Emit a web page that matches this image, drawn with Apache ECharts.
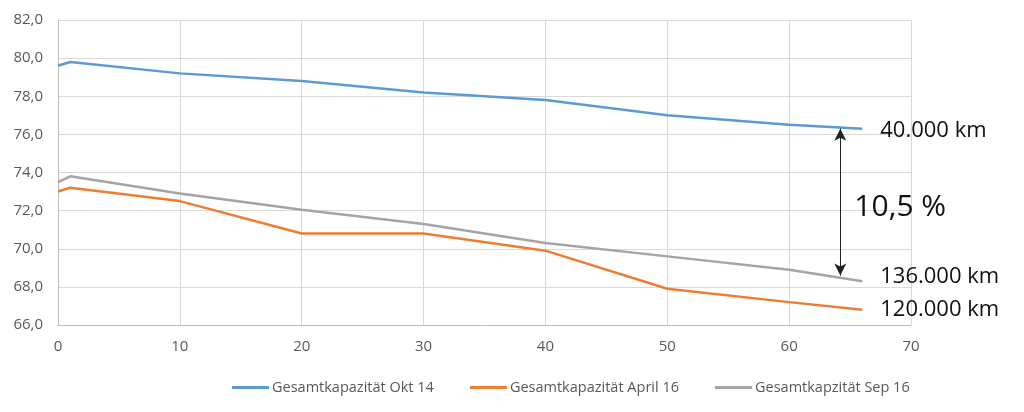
<!DOCTYPE html>
<html><head><meta charset="utf-8">
<script src="https://cdn.jsdelivr.net/npm/echarts@6/dist/echarts.min.js"></script>
<style>html,body{margin:0;padding:0;background:#fff}#c{width:1024px;height:412px}</style>
</head><body><div id="c"></div>
<script>
const xValues = [0, 1, 10, 20, 30, 40, 50, 60, 66];
const seriesNames = ['Gesamtkapazität Okt 14', 'Gesamtkapazität April 16', 'Gesamtkapzität Sep 16'];
const okt14 = [79.6, 79.8, 79.2, 78.8, 78.2, 77.8, 77.0, 76.5, 76.3];
const april16 = [73.0, 73.2, 72.5, 70.8, 70.8, 69.9, 67.9, 67.2, 66.8];
const sep16 = [73.5, 73.8, 72.9, 72.05, 71.3, 70.3, 69.6, 68.9, 68.3];
const endLabels = ['40.000 km', '120.000 km', '136.000 km'];
const arrowX = 64.2, arrowTop = 76.3, arrowBottom = 68.6;
const gapLabel = '10,5 %';
const colors = ['#5B9BD5', '#ED7D31', '#A5A5A5'];
const font = 'Open Sans, Liberation Sans, sans-serif';

function pts(vals){ return xValues.map((x,i)=>[x, vals[i]]); }
const data = [okt14, april16, sep16];
const endOffsets = [[0, 2], [0, 0], [0, -4]];
const series = data.map((vals, i) => ({
  name: seriesNames[i],
  type: 'line',
  data: pts(vals),
  symbol: 'none',
  lineStyle: {width: 2.5, color: colors[i]},
  itemStyle: {color: colors[i]},
  endLabel: {show: true, formatter: endLabels[i], distance: 18, offset: endOffsets[i],
    fontFamily: font, fontSize: 22, color: '#111'},
  animation: false
}));
series[0].markLine = {
  silent: true, symbol: ['arrow', 'arrow'], symbolSize: [9, 12],
  lineStyle: {color: '#222', width: 1, type: 'solid'},
  label: {show: false},
  data: [[{coord: [arrowX, arrowTop]}, {coord: [arrowX, arrowBottom]}]]
};
series[0].markPoint = {
  silent: true, symbol: 'circle', symbolSize: 0,
  label: {show: true, position: 'right', distance: 14, offset: [0, 5], formatter: gapLabel,
    fontFamily: font, fontSize: 30, color: '#111'},
  data: [{coord: [arrowX, (arrowTop + arrowBottom) / 2]}]
};

const chart = echarts.init(document.getElementById('c'));
chart.setOption({
  animation: false,
  color: colors,
  grid: {left: 58, right: 113, top: 20, bottom: 87},
  legend: {top: 375, left: 227, itemWidth: 37, itemHeight: 3, itemGap: 36,
    icon: 'rect',
    textStyle: {fontFamily: font, fontSize: 14.5, color: '#595959', padding: [0,0,0,-2]},
    data: seriesNames},
  xAxis: {type: 'value', min: 0, max: 70, interval: 10,
    axisLine: {show: true, lineStyle: {color: '#BFBFBF'}}, axisTick: {show: false},
    splitLine: {show: true, lineStyle: {color: '#D9D9D9'}},
    axisLabel: {fontFamily: font, fontSize: 15, color: '#595959', margin: 14}},
  yAxis: {type: 'value', min: 66, max: 82, interval: 2,
    axisLine: {show: true, onZero: false, lineStyle: {color: '#BFBFBF'}}, axisTick: {show: false},
    splitLine: {show: true, lineStyle: {color: '#D9D9D9'}},
    axisLabel: {fontFamily: font, fontSize: 15, color: '#595959', margin: 15,
      formatter: v => v.toFixed(1).replace('.', ',')}},
  series: series
});
</script></body></html>
